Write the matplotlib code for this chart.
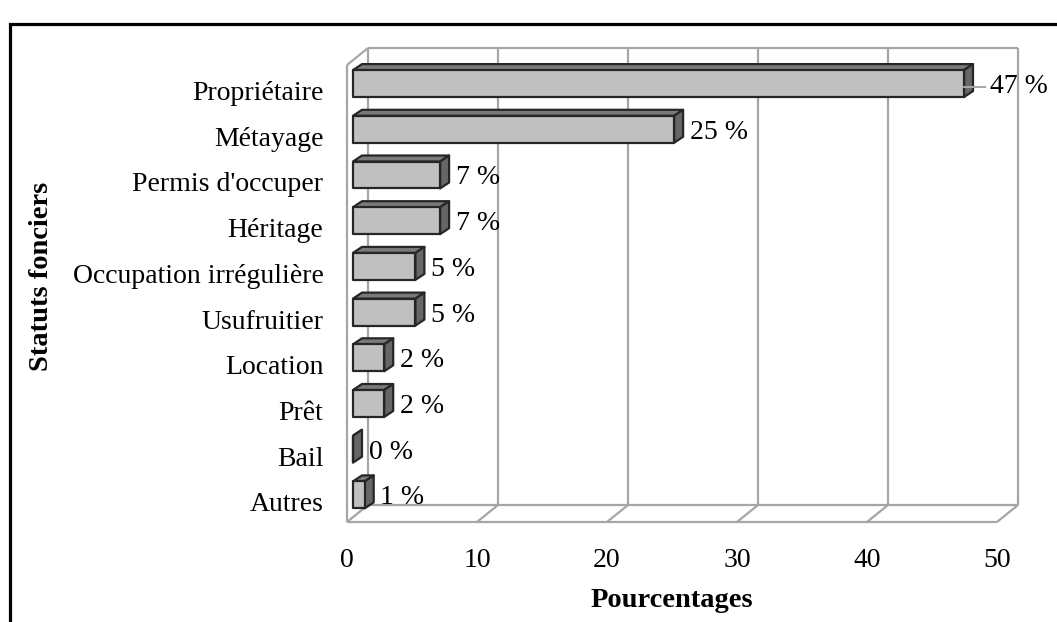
import matplotlib
matplotlib.use("Agg")
import matplotlib.pyplot as plt
from matplotlib.patches import Polygon, Rectangle
import numpy as np

# donnees
categories = ["Propriétaire", "Métayage", "Permis d'occuper", "Héritage",
              "Occupation irrégulière", "Usufruitier", "Location", "Prêt",
              "Bail", "Autres"]
values = [47, 24.7, 6.7, 6.7, 4.8, 4.8, 2.4, 2.4, 0, 0.9]
xticks = [0, 10, 20, 30, 40, 50]

plt.rcParams['font.family'] = ['Liberation Serif', 'DejaVu Serif']
FS = 20

W, H = 1057, 622
fig = plt.figure(figsize=(W / 100, H / 100), dpi=100)
ax = fig.add_axes([347 / W, (H - 522) / H, 650 / W, (522 - 65) / H])
ax.set_xlim(0, 50)
ax.set_ylim(9.44, -0.56)
for s in ax.spines.values():
    s.set_visible(False)
ax.set_facecolor('none')


def px(dx, dy):
    # decalage en pixels (ecran) -> decalage en unites de donnees
    o = ax.transData.transform((0, 0))
    return ax.transData.inverted().transform(o + np.array([dx, dy]))


ybot, ytop = ax.get_ylim()
wall = px(21, 17)
gk = dict(color='#a6a6a6', lw=1.6, zorder=1, clip_on=False, solid_capstyle='butt')

# murs et sol en pseudo 3D
for t in xticks:
    ax.plot([t + wall[0]] * 2, [ybot + wall[1], ytop + wall[1]], **gk)
    ax.plot([t, t + wall[0]], [ybot, ybot + wall[1]], **gk)
ax.plot([wall[0], xticks[-1] + wall[0]], [ytop + wall[1]] * 2, **gk)
ax.plot([wall[0], xticks[-1] + wall[0]], [ybot + wall[1]] * 2, **gk)
ax.plot([0, xticks[-1]], [ybot, ybot], **gk)
ax.plot([0, 0], [ybot, ytop], **gk)
ax.plot([0, wall[0]], [ytop, ytop + wall[1]], **gk)

# barres
off = px(6, 7)
dep = px(9, 6)
h = 0.59
ek = dict(edgecolor='#262626', lw=1.6, zorder=3, clip_on=False, joinstyle='round')
vmax = max(values)
for i, v in enumerate(values):
    x0, x1 = off[0], v + off[0]
    yc = i + off[1]
    yt, yb = yc - h / 2, yc + h / 2
    top = [(x0, yt), (x1, yt), (x1 + dep[0], yt + dep[1]), (x0 + dep[0], yt + dep[1])]
    side = [(x1, yt), (x1 + dep[0], yt + dep[1]), (x1 + dep[0], yb + dep[1]), (x1, yb)]
    front = [(x0, yt), (x1, yt), (x1, yb), (x0, yb)]
    ax.add_patch(Polygon(top, facecolor='#7a7a7a', **ek))
    ax.add_patch(Polygon(side, facecolor='#666666', **ek))
    ax.add_patch(Polygon(front, facecolor='#c0c0c0', **ek))

    ty = yc + px(0, -3)[1]
    if v == vmax:
        ax.plot([x1, x1 + px(21, 0)[0]], [ty, ty], color='#a6a6a6', lw=1.5,
                zorder=4, clip_on=False)
        tx = x1 + px(26, 0)[0]
    else:
        tx = x1 + px(15.5, 0)[0]
    ax.text(tx, ty, f"{round(v)} %", fontsize=FS, va='center', ha='left', zorder=5)

ax.set_yticks(range(len(categories)), categories, fontsize=FS)
ax.set_xticks(xticks, [str(t) for t in xticks], fontsize=FS)
ax.tick_params(axis='y', length=0, pad=17)
ax.tick_params(axis='x', length=0, pad=19)

fig.text(672 / W, (H - 607) / H, "Pourcentages", fontsize=20.5, fontweight='bold',
         ha='center', va='baseline')
fig.text(42 / W, (H - 276) / H, "Statuts fonciers", fontsize=20.5, fontweight='bold',
         rotation=90, ha='center', va='center')

# cadre noir autour du graphique
fig.patches.append(Rectangle((10 / W, -0.2), 1.5, (H - 24) / H + 0.2, transform=fig.transFigure,
                             fill=False, edgecolor='black', lw=2.3))

fig.savefig("out.png", dpi=100)
